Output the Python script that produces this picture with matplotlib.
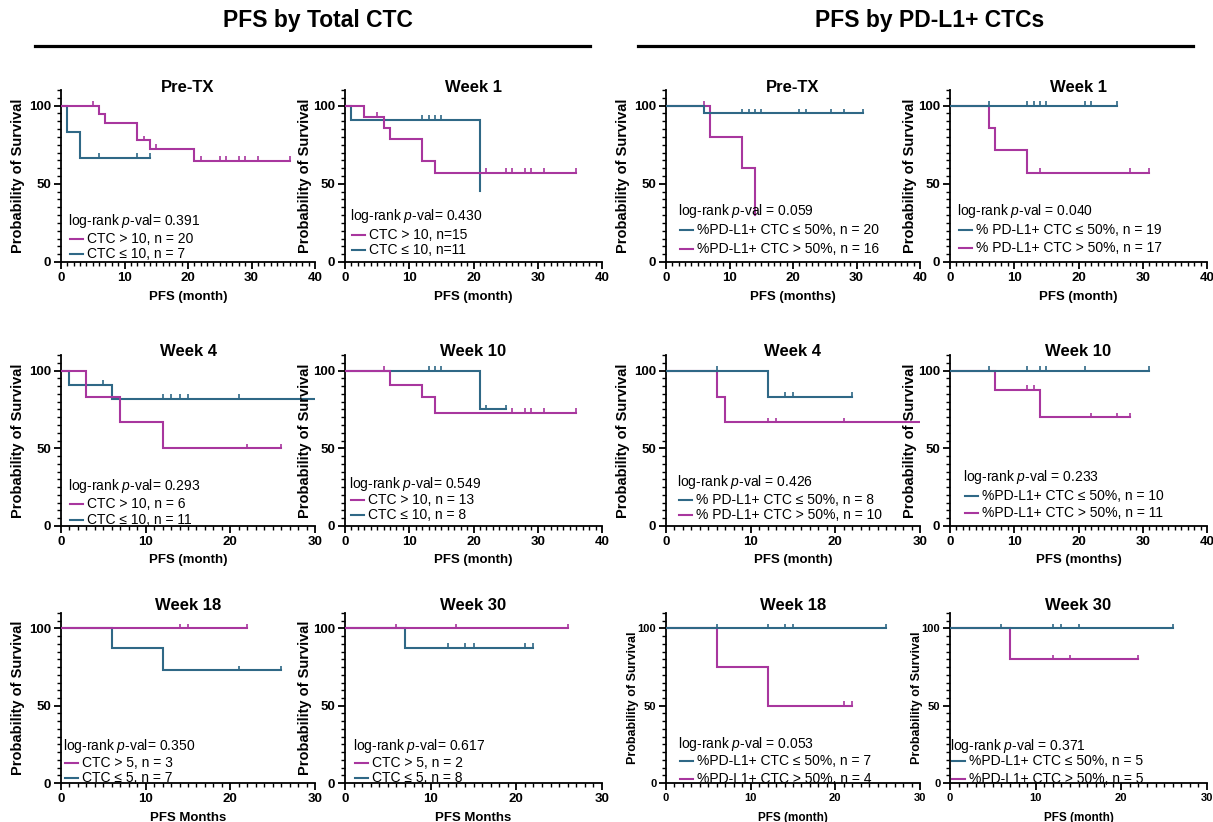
import numpy as np
import matplotlib
matplotlib.use('Agg')
import matplotlib.pyplot as plt
from matplotlib.ticker import MultipleLocator
from matplotlib.lines import Line2D

plt.rcParams['font.family'] = ['Liberation Sans', 'DejaVu Sans']
plt.rcParams['mathtext.fontset'] = 'custom'
plt.rcParams['mathtext.rm'] = 'Liberation Sans'
plt.rcParams['mathtext.it'] = 'Liberation Sans:italic'

MAG = '#a8369e'
BLU = '#2f6886'

# ---------------- data (time in months, survival in %) ----------------
# PFS by Total CTC
tc_pre_hi_t = [0, 6, 7, 12, 14, 21, 36]
tc_pre_hi_s = [100, 94.7, 88.9, 77.8, 72.2, 64.6, 64.6]
tc_pre_hi_c = [5, 13, 15, 22, 25, 26, 28, 29, 31, 36]
tc_pre_lo_t = [0, 1, 3, 14]
tc_pre_lo_s = [100, 83.3, 66.7, 66.7]
tc_pre_lo_c = [6, 12, 14]

tc_w1_hi_t = [0, 3, 6, 7, 12, 14, 36]
tc_w1_hi_s = [100, 92.9, 85.7, 78.6, 64.3, 57.1, 57.1]
tc_w1_hi_c = [5, 22, 25, 26, 28, 29, 31, 36]
tc_w1_lo_t = [0, 1, 21]
tc_w1_lo_s = [100, 90.9, 45.5]
tc_w1_lo_c = [12, 13, 14, 15]

tc_w4_hi_t = [0, 3, 7, 12, 26]
tc_w4_hi_s = [100, 83.3, 66.7, 50, 50]
tc_w4_hi_c = [22, 26]
tc_w4_lo_t = [0, 1, 6, 30]
tc_w4_lo_s = [100, 90.9, 81.8, 81.8]
tc_w4_lo_c = [5, 12, 13, 14, 15, 21]

tc_w10_hi_t = [0, 7, 12, 14, 36]
tc_w10_hi_s = [100, 90.9, 83.3, 72.7, 72.7]
tc_w10_hi_c = [6, 26, 28, 29, 31, 36]
tc_w10_lo_t = [0, 21, 25]
tc_w10_lo_s = [100, 75, 75]
tc_w10_lo_c = [13, 14, 15, 22, 25]

tc_w18_hi_t = [0, 22]
tc_w18_hi_s = [100, 100]
tc_w18_hi_c = [14, 15, 22]
tc_w18_lo_t = [0, 6, 12, 26]
tc_w18_lo_s = [100, 87.5, 72.9, 72.9]
tc_w18_lo_c = [21, 26]

tc_w30_hi_t = [0, 26]
tc_w30_hi_s = [100, 100]
tc_w30_hi_c = [6, 13, 26]
tc_w30_lo_t = [0, 7, 22]
tc_w30_lo_s = [100, 87.5, 87.5]
tc_w30_lo_c = [12, 14, 15, 21, 22]

# PFS by PD-L1+ CTCs
pd_pre_lo_t = [0, 6, 31]
pd_pre_lo_s = [100, 95, 95]
pd_pre_lo_c = [12, 13, 14, 15, 21, 22, 26, 28, 31]
pd_pre_hi_t = [0, 7, 12, 14]
pd_pre_hi_s = [100, 80, 60, 30]
pd_pre_hi_c = [6]

pd_w1_lo_t = [0, 26]
pd_w1_lo_s = [100, 100]
pd_w1_lo_c = [6, 12, 13, 14, 15, 21, 22, 26]
pd_w1_hi_t = [0, 6, 7, 12, 31]
pd_w1_hi_s = [100, 85.7, 71.4, 57.1, 57.1]
pd_w1_hi_c = [14, 28, 31]

pd_w4_lo_t = [0, 12, 22]
pd_w4_lo_s = [100, 83.3, 83.3]
pd_w4_lo_c = [6, 14, 15, 22]
pd_w4_hi_t = [0, 6, 7, 30]
pd_w4_hi_s = [100, 83.3, 66.7, 66.7]
pd_w4_hi_c = [12, 13, 21]

pd_w10_lo_t = [0, 31]
pd_w10_lo_s = [100, 100]
pd_w10_lo_c = [6, 12, 14, 15, 21, 31]
pd_w10_hi_t = [0, 7, 14, 28]
pd_w10_hi_s = [100, 87.5, 70, 70]
pd_w10_hi_c = [12, 13, 22, 26, 28]

pd_w18_lo_t = [0, 26]
pd_w18_lo_s = [100, 100]
pd_w18_lo_c = [6, 12, 14, 15, 26]
pd_w18_hi_t = [0, 6, 12, 22]
pd_w18_hi_s = [100, 75, 50, 50]
pd_w18_hi_c = [21, 22]

pd_w30_lo_t = [0, 26]
pd_w30_lo_s = [100, 100]
pd_w30_lo_c = [6, 12, 13, 15, 26]
pd_w30_hi_t = [0, 7, 22]
pd_w30_hi_s = [100, 80, 80]
pd_w30_hi_c = [12, 14, 22]

titles = ['Pre-TX', 'Week 1', 'Pre-TX', 'Week 1',
          'Week 4', 'Week 10', 'Week 4', 'Week 10',
          'Week 18', 'Week 30', 'Week 18', 'Week 30']
xlabels = ['PFS (month)', 'PFS (month)', 'PFS (months)', 'PFS (month)',
           'PFS (month)', 'PFS (month)', 'PFS (month)', 'PFS (months)',
           'PFS Months', 'PFS Months', 'PFS (month)', 'PFS (month)']
xmaxes = [40, 40, 40, 40, 30, 40, 30, 40, 30, 30, 30, 30]
pvals = ['log-rank $p$-val= 0.391', 'log-rank $p$-val= 0.430',
         'log-rank $p$-val = 0.059', 'log-rank $p$-val = 0.040',
         'log-rank $p$-val= 0.293', 'log-rank $p$-val= 0.549',
         'log-rank $p$-val = 0.426', 'log-rank $p$-val = 0.233',
         'log-rank $p$-val= 0.350', 'log-rank $p$-val= 0.617',
         'log-rank $p$-val = 0.053', 'log-rank $p$-val = 0.371']
legend1 = ['CTC > 10, n = 20', 'CTC > 10, n=15',
           '%PD-L1+ CTC \u2264 50%, n = 20', '% PD-L1+ CTC \u2264 50%, n = 19',
           'CTC > 10, n = 6', 'CTC > 10, n = 13',
           '% PD-L1+ CTC \u2264 50%, n = 8', '%PD-L1+ CTC \u2264 50%, n = 10',
           'CTC > 5, n = 3', 'CTC > 5, n = 2',
           '%PD-L1+ CTC \u2264 50%, n = 7', '%PD-L1+ CTC \u2264 50%, n = 5']
legend2 = ['CTC \u2264 10, n = 7', 'CTC \u2264 10, n=11',
           '%PD-L1+ CTC > 50%, n = 16', '% PD-L1+ CTC > 50%, n = 17',
           'CTC \u2264 10, n = 11', 'CTC \u2264 10, n = 8',
           '% PD-L1+ CTC > 50%, n = 10', '%PD-L1+ CTC > 50%, n = 11',
           'CTC \u2264 5, n = 7', 'CTC \u2264 5, n = 8',
           '%PD-L1+ CTC > 50%, n = 4', '%PD-L1+ CTC > 50%, n = 5']

# curves per panel: (first legend entry), (second legend entry)
curves = [
    ((tc_pre_hi_t, tc_pre_hi_s, tc_pre_hi_c, MAG), (tc_pre_lo_t, tc_pre_lo_s, tc_pre_lo_c, BLU)),
    ((tc_w1_hi_t, tc_w1_hi_s, tc_w1_hi_c, MAG), (tc_w1_lo_t, tc_w1_lo_s, tc_w1_lo_c, BLU)),
    ((pd_pre_lo_t, pd_pre_lo_s, pd_pre_lo_c, BLU), (pd_pre_hi_t, pd_pre_hi_s, pd_pre_hi_c, MAG)),
    ((pd_w1_lo_t, pd_w1_lo_s, pd_w1_lo_c, BLU), (pd_w1_hi_t, pd_w1_hi_s, pd_w1_hi_c, MAG)),
    ((tc_w4_hi_t, tc_w4_hi_s, tc_w4_hi_c, MAG), (tc_w4_lo_t, tc_w4_lo_s, tc_w4_lo_c, BLU)),
    ((tc_w10_hi_t, tc_w10_hi_s, tc_w10_hi_c, MAG), (tc_w10_lo_t, tc_w10_lo_s, tc_w10_lo_c, BLU)),
    ((pd_w4_lo_t, pd_w4_lo_s, pd_w4_lo_c, BLU), (pd_w4_hi_t, pd_w4_hi_s, pd_w4_hi_c, MAG)),
    ((pd_w10_lo_t, pd_w10_lo_s, pd_w10_lo_c, BLU), (pd_w10_hi_t, pd_w10_hi_s, pd_w10_hi_c, MAG)),
    ((tc_w18_hi_t, tc_w18_hi_s, tc_w18_hi_c, MAG), (tc_w18_lo_t, tc_w18_lo_s, tc_w18_lo_c, BLU)),
    ((tc_w30_hi_t, tc_w30_hi_s, tc_w30_hi_c, MAG), (tc_w30_lo_t, tc_w30_lo_s, tc_w30_lo_c, BLU)),
    ((pd_w18_lo_t, pd_w18_lo_s, pd_w18_lo_c, BLU), (pd_w18_hi_t, pd_w18_hi_s, pd_w18_hi_c, MAG)),
    ((pd_w30_lo_t, pd_w30_lo_s, pd_w30_lo_c, BLU), (pd_w30_hi_t, pd_w30_hi_s, pd_w30_hi_c, MAG)),
]

# ---------------- layout (pixels) ----------------
W, H = 1213, 822
fig = plt.figure(figsize=(W / 100, H / 100), dpi=100)
fig.patch.set_facecolor('white')

col_left = [61, 345, 666, 950]
col_width = [254, 257, 254, 257]
row_bottom = [262, 526, 783]
row_height = [172, 171, 170]
ylab_x = [-0.169, -0.156, -0.169, -0.156]
title_y = [1.017, 1.018, 1.045]
xlab_y = [-0.205, -0.2, -0.206]
leg_pos = [(68, 221, 239, 254), (350, 216, 235, 250), (678, 211, 230, 249), (957, 211, 230, 248),
           (68, 486, 504, 520), (349, 484, 500, 515), (677, 482, 500, 515), (963, 477, 496, 513),
           (63, 746, 763, 778), (353, 746, 763, 778), (678, 744, 761, 779), (950, 746, 761, 779)]


def fx(px):
    return px / W


def fy(py):
    return 1 - py / H


for i in range(12):
    r, c = divmod(i, 4)
    small = (r == 2 and c >= 2)
    L, B, Wd, Ht = col_left[c], row_bottom[r], col_width[c], row_height[r]
    ax = fig.add_axes([fx(L), fy(B), Wd / W, Ht / H])
    ax.set_xlim(0, xmaxes[i])
    ax.set_ylim(0, 110)
    for sp in ['top', 'right']:
        ax.spines[sp].set_visible(False)
    for sp in ['left', 'bottom']:
        ax.spines[sp].set_linewidth(1.3)
    ax.xaxis.set_major_locator(MultipleLocator(10))
    ax.xaxis.set_minor_locator(MultipleLocator(1))
    ax.set_yticks([0, 50, 100])
    ax.yaxis.set_minor_locator(MultipleLocator(5))
    ax.tick_params(which='major', direction='out', length=5, width=1.3,
                   labelsize=8 if small else 9.5, pad=2)
    ax.tick_params(which='minor', direction='out', length=2.8, width=1.0)
    for lab in ax.get_xticklabels() + ax.get_yticklabels():
        lab.set_fontweight('bold')

    # curves (first legend entry drawn on top)
    for t, s, cens, col in reversed(curves[i]):
        t = np.asarray(t, float)
        s = np.asarray(s, float)
        ax.step(t, s, where='post', color=col, lw=1.5, solid_joinstyle='miter', zorder=3)
        cens = np.asarray(cens, float)
        lv = s[np.searchsorted(t, cens, side='right') - 1]
        ax.vlines(cens, lv - 0.6, lv + 3.0, color=col, lw=1.2, zorder=3)

    ax.set_ylabel('Probability of Survival', fontsize=9 if small else 10.5, fontweight='bold')
    ax.yaxis.set_label_coords(-0.13 if small else ylab_x[c], 0.5)
    ax.yaxis.label.set_va('center')
    ax.set_xlabel(xlabels[i], fontsize=8.5 if small else 9.5, fontweight='bold')
    ax.xaxis.set_label_coords(0.5, xlab_y[r])
    ax.xaxis.label.set_va('center')
    ax.text(0.5, title_y[r], titles[i], transform=ax.transAxes, ha='center', va='center',
            fontsize=12, fontweight='bold')

    # legend block
    lx, y0, y1, y2 = leg_pos[i]
    fig.text(fx(lx), fy(y0), pvals[i], fontsize=10, ha='left', va='center')
    for yy, txt, col in [(y1, legend1[i], curves[i][0][3]), (y2, legend2[i], curves[i][1][3])]:
        fig.add_artist(Line2D([fx(lx + 2), fx(lx + 15)], [fy(yy), fy(yy)], color=col, lw=1.5))
        fig.text(fx(lx + 19), fy(yy), txt, fontsize=10, ha='left', va='center')

# headers
fig.text(fx(318), fy(20), 'PFS by Total CTC', fontsize=16.5, fontweight='bold', ha='center', va='center')
fig.text(fx(930), fy(20), 'PFS by PD-L1+ CTCs', fontsize=16.5, fontweight='bold', ha='center', va='center')
fig.add_artist(Line2D([fx(35), fx(590)], [fy(46), fy(46)], color='black', lw=2.3))
fig.add_artist(Line2D([fx(638), fx(1193)], [fy(46), fy(46)], color='black', lw=2.3))

fig.savefig('out.png', dpi=100, facecolor='white')
